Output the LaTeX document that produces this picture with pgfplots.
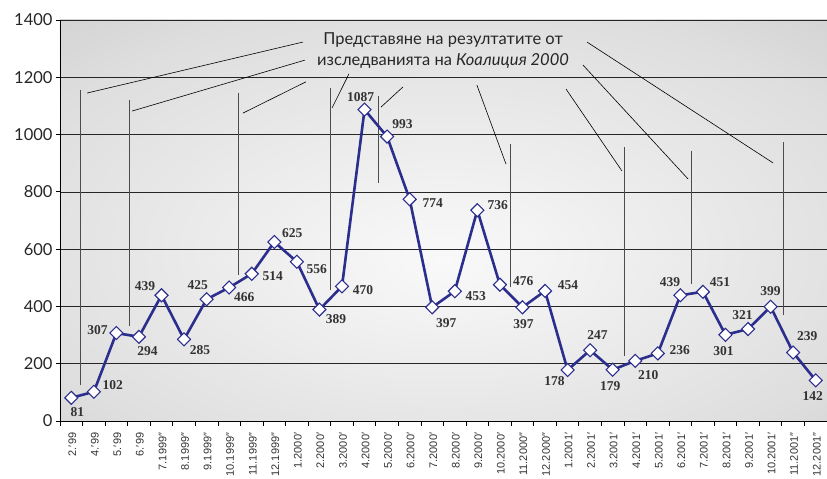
\documentclass[border=0pt]{standalone}
\usepackage{pgfplots}
\pgfplotsset{compat=1.18}
\usepackage{pgfplotstable}
\usepackage{fontspec}
\setmainfont{Liberation Sans}
\newfontfamily\latofont{Lato}
\newfontfamily\lserif{Liberation Serif}
\definecolor{navy}{RGB}{43,46,140}
\definecolor{bgcenter}{RGB}{249,249,249}
\definecolor{bgin}{RGB}{240,240,240}
\definecolor{bgmid}{RGB}{222,222,222}
\definecolor{bgedge}{RGB}{194,194,194}
\definecolor{bgcorner}{RGB}{184,184,184}
\pgfdeclareradialshading{bgshade}{\pgfpoint{0bp}{-5bp}}{color(0bp)=(bgcenter); color(10bp)=(bgin); color(30bp)=(bgmid); color(50bp)=(bgedge); color(75bp)=(bgcorner)}

\pgfplotstableread{
x y dx dy
0 81 6 -14
1 102 19 7
2 307 -19 3
3 294 8.5 -14
4 439 -16.5 9
5 285 16 -11
6 425 -9 14
7 466 15 -10
8 514 21 -2
9 625 18 9
10 556 20 -7.5
11 389 16.5 -9.5
12 470 21 -4
13 1087 -4 13
14 993 15.5 12.3
15 774 23 -4
16 397 14 -15.4
17 453 21 -5
18 736 20.4 5
19 476 23.4 3.7
20 397 1 -17
21 454 23 6
22 178 -13 -11
23 247 7.3 15.7
24 179 -2.5 -16.3
25 210 13 -14
26 236 22 3.4
27 439 -10.4 13.6
28 451 17 10
29 301 -2 -16
30 321 -5.6 14
31 399 0 16
32 239 14 16
33 142 -3 -15.4
}\datatable

\begin{document}
\begin{tikzpicture}
\path[use as bounding box] (-60pt,-58pt) rectangle (767pt,421pt);
\begin{axis}[
  at={(0pt,0pt)}, anchor=south west,
  scale only axis, width=767pt, height=401pt,
  xmin=-0.5, xmax=33.5, ymin=0, ymax=1400,
  clip=false,
  axis background/.style={shading=bgshade},
  axis x line*=bottom, axis y line*=left,
  axis line style={black, line width=0.9pt},
  ytick={0,200,...,1400},
  ymajorgrids,
  major grid style={black!85, line width=0.7pt},
  tick align=outside,
  major tick length=4pt,
  minor tick length=5pt,
  ytick style={black, line width=0.8pt},
  major x tick style={draw=none},
  minor x tick style={black, line width=0.8pt},
  minor xtick={-0.5,0.5,...,33.5},
  xtick={0,...,33},
  xticklabels={2.′99,4.′99,5.′99,6.′99,7.1999″,8.1999″,9.1999″,10.1999″,11.1999″,12.1999″,1.2000′,2.2000′,3.2000′,4.2000′,5.2000′,6.2000′,7.2000′,8.2000′,9.2000′,10.2000′,11.2000″,12.2000″,1.2001′,2.2001′,3.2001′,4.2001′,5.2001′,6.2001′,7.2001′,8.2001′,9.2001′,10.2001′,11.2001″,12.2001″},
  x tick label style={yshift=-7pt, xshift=1pt, rotate=90, anchor=east, font=\fontsize{11}{12}\selectfont, text=black!80, inner sep=0.5pt},
  y tick label style={font=\latofont\fontsize{16.5}{18}\selectfont, text=black!85, /pgf/number format/1000 sep={}},
  /pgf/number format/assume math mode=true,
]
% vertical lines
\draw[black!70, line width=1pt]
  (axis cs:0.43,1156) -- (axis cs:0.43,126)
  (axis cs:2.56,1121) -- (axis cs:2.56,332)
  (axis cs:7.43,1145) -- (axis cs:7.43,510)
  (axis cs:11.47,1163) -- (axis cs:11.47,457)
  (axis cs:13.6,1135) -- (axis cs:13.6,831)
  (axis cs:19.45,967) -- (axis cs:19.45,468)
  (axis cs:24.54,957) -- (axis cs:24.54,227)
  (axis cs:27.51,943) -- (axis cs:27.51,478)
  (axis cs:31.59,974) -- (axis cs:31.59,370);
% pointer lines
\draw[black, line width=0.6pt]
  (axis cs:10.27,1323) -- (axis cs:0.70,1145)
  (axis cs:10.36,1260) -- (axis cs:2.69,1082)
  (axis cs:10.40,1184) -- (axis cs:7.61,1075)
  (axis cs:12.31,1212) -- (axis cs:11.56,1093)
  (axis cs:14.70,1166) -- (axis cs:13.73,1096)
  (axis cs:17.98,1173) -- (axis cs:19.27,897)
  (axis cs:21.93,1159) -- (axis cs:24.41,873)
  (axis cs:22.68,1243) -- (axis cs:27.34,845)
  (axis cs:22.86,1323) -- (axis cs:31.11,901);
\node[align=center, font=\latofont\fontsize{16.5}{21}\selectfont, text=black!85, inner sep=0pt]
  at (axis cs:16.48,1295) {Представяне на резултатите от\\изследванията на \textit{Коалиция 2000}};
\addplot[navy, line width=2.6pt,
  mark=square*, mark size=4.6pt,
  mark options={rotate=45, fill=white, draw=navy, line width=1.1pt, solid},
  nodes near coords, point meta=explicit symbolic,
  visualization depends on={\thisrow{dx} \as \dx},
  visualization depends on={\thisrow{dy} \as \dy},
  every node near coord/.append style={anchor=center, xshift=\dx pt, yshift=\dy pt, font=\lserif\bfseries\fontsize{13.5}{14}\selectfont, text=black!80, inner sep=0pt}]
  table[x=x, y=y, meta=y] {\datatable};
\end{axis}
\end{tikzpicture}
\end{document}
